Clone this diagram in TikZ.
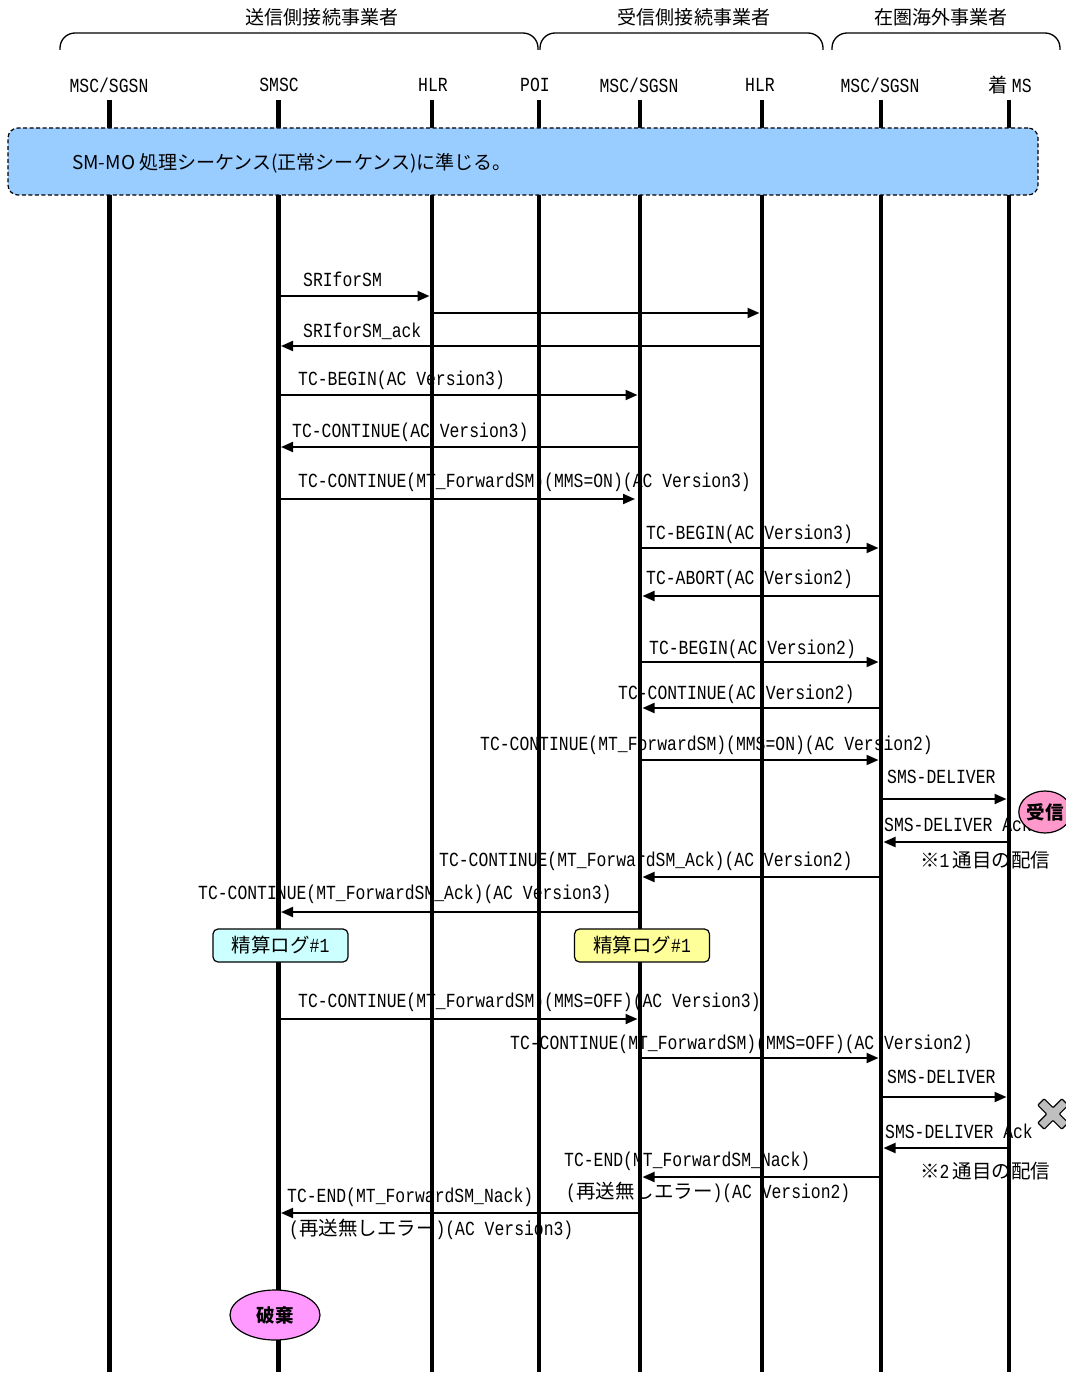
\documentclass[tikz,border=0pt]{standalone}
\usepackage{fontspec}
\setmainfont[FakeStretch=0.82]{Liberation Mono}
\newfontfamily\jp[Scale=0.975]{Noto Sans CJK JP}
\usetikzlibrary{arrows.meta,shapes.geometric}
\definecolor{boxblue}{HTML}{99CCFF}
\definecolor{logcyan}{HTML}{CCFFFF}
\definecolor{logyellow}{HTML}{FFFF99}
\definecolor{recvpink}{HTML}{FF99CC}
\definecolor{discpink}{HTML}{FF99FF}
\definecolor{xgray}{HTML}{BFBFBF}
\newcommand\J[1]{{\jp #1}}
\tikzset{
  life/.style={line width=4.5pt},
  msg/.style={line width=2pt,-{Triangle[length=12pt,width=10pt]},shorten >=2.5pt},
  lbl/.style={anchor=base west},
  hdr/.style={anchor=center},
  brace/.style={line width=1.3pt,rounded corners=15pt},
  logbox/.style={draw,line width=1.2pt,rounded corners=5pt,minimum width=135pt,minimum height=33pt},
  stampmark/.style={draw,line width=1.2pt,ellipse,font=\fontsize{19}{22}\selectfont\jp\bfseries}
}
\begin{document}
\begin{tikzpicture}[x=1pt,y=-1pt,every node/.style={inner sep=0pt,font=\fontsize{20}{24}\selectfont}]
\useasboundingbox (0,0) rectangle (1065,1375);
\fill[white] (0,0) rectangle (1065,1375);

% operator groups
\draw[brace] (60,50) -- (60,33) -- (538,33) -- (538,50);
\draw[brace] (540,50) -- (540,33) -- (823,33) -- (823,50);
\draw[brace] (832,50) -- (832,33) -- (1060,33) -- (1060,50);
\node[hdr,font=\fontsize{19.5}{22}\selectfont\jp] (g1) at (322,17) {送信側接続事業者};
\node[hdr,font=\fontsize{19.5}{22}\selectfont\jp] (g2) at (694,17) {受信側接続事業者};
\node[hdr,font=\fontsize{19.5}{22}\selectfont\jp] (g3) at (941,17) {在圏海外事業者};

% participants
\node[hdr] (p1) at (109,85) {MSC/SGSN};
\node[hdr] (p2) at (279,85) {SMSC};
\node[hdr] (p3) at (433,85) {HLR};
\node[hdr] (p4) at (535,85) {POI};
\node[hdr] (p5) at (639,85) {MSC/SGSN};
\node[hdr] (p6) at (760,85) {HLR};
\node[hdr] (p7) at (880,85) {MSC/SGSN};
\node[hdr] (p8) at (1010,85) {\J{着}\hspace{4pt}MS};

% message labels
\node[lbl] (t1) at (303,286) {SRIforSM};
\node[lbl] (t3) at (303,337) {SRIforSM\_ack};
\node[lbl] (t4) at (298,385) {TC-BEGIN(AC Version3)};
\node[lbl] (t5) at (292,437) {TC-CONTINUE(AC Version3)};
\node[lbl] (t6) at (298,487) {TC-CONTINUE(MT\_ForwardSM)(MMS=ON)(AC Version3)};
\node[lbl] (t7) at (646,539) {TC-BEGIN(AC Version3)};
\node[lbl] (t8) at (646,584) {TC-ABORT(AC Version2)};
\node[lbl] (t9) at (649,654) {TC-BEGIN(AC Version2)};
\node[lbl] (t10) at (618,699) {TC-CONTINUE(AC Version2)};
\node[lbl] (t11) at (480,750) {TC-CONTINUE(MT\_ForwardSM)(MMS=ON)(AC Version2)};
\node[lbl] (t12) at (887,783) {SMS-DELIVER};
\node[lbl] (t13) at (884,831) {SMS-DELIVER Ack};
\node[lbl] (n1) at (920,867) {\J{※}1\hspace{3pt}\J{通目の配信}};
\node[lbl] (t14) at (439,866) {TC-CONTINUE(MT\_ForwardSM\_Ack)(AC Version2)};
\node[lbl] (t15) at (198,899) {TC-CONTINUE(MT\_ForwardSM\_Ack)(AC Version3)};
\node[lbl] (t16) at (298,1007) {TC-CONTINUE(MT\_ForwardSM)(MMS=OFF)(AC Version3)};
\node[lbl] (t17) at (510,1049) {TC-CONTINUE(MT\_ForwardSM)(MMS=OFF)(AC Version2)};
\node[lbl] (t18) at (887,1083) {SMS-DELIVER};
\node[lbl] (t19) at (885,1138) {SMS-DELIVER Ack};
\node[lbl] (n2) at (920,1178) {\J{※}2\hspace{3pt}\J{通目の配信}};
\node[lbl] (t20a) at (564,1166) {TC-END(MT\_ForwardSM\_Nack)};
\node[lbl] (t20b) at (566,1198) {(\J{再送無しエラー})(AC Version2)};
\node[lbl] (t21a) at (287,1202) {TC-END(MT\_ForwardSM\_Nack)};
\node[lbl] (t21b) at (289,1235) {(\J{再送無しエラー})(AC Version3)};

% lifelines
\foreach \n/\x in {1/109.5,2/278.5,3/432,4/539,5/640,6/762,7/881,8/1009}{
  \coordinate (l\n t) at (\x,100);
  \coordinate (l\n b) at (\x,1372);
  \draw[life] (l\n t) -- (l\n b);
}

% message rows
\foreach \n/\y in {1/296,2/313,3/346,4/395,5/447,6/499,7/548,8/596,9/662,10/708,
  11/760,12/799,13/842,14/877,15/912,16/1019,17/1058,18/1097,19/1148,20/1177,21/1213}{
  \coordinate (r\n) at (0,\y);
}
\draw[msg] (l2t |- r1) -- (l3t |- r1);
\draw[msg] (l3t |- r2) -- (l6t |- r2);
\draw[msg] (l6t |- r3) -- (l2t |- r3);
\draw[msg] (l2t |- r4) -- (l5t |- r4);
\draw[msg] (l5t |- r5) -- (l2t |- r5);
\draw[msg,shorten >=5pt] (l2t |- r6) -- (l5t |- r6);
\draw[msg] (l5t |- r7) -- (l7t |- r7);
\draw[msg] (l7t |- r8) -- (l5t |- r8);
\draw[msg] (l5t |- r9) -- (l7t |- r9);
\draw[msg] (l7t |- r10) -- (l5t |- r10);
\draw[msg] (l5t |- r11) -- (l7t |- r11);
\draw[msg] (l7t |- r12) -- (l8t |- r12);
\draw[msg] (l8t |- r13) -- (l7t |- r13);
\draw[msg] (l7t |- r14) -- (l5t |- r14);
\draw[msg] (l5t |- r15) -- (l2t |- r15);
\draw[msg] (l2t |- r16) -- (l5t |- r16);
\draw[msg] (l5t |- r17) -- (l7t |- r17);
\draw[msg] (l7t |- r18) -- (l8t |- r18);
\draw[msg] (l8t |- r19) -- (l7t |- r19);
\draw[msg] (l7t |- r20) -- (l5t |- r20);
\draw[msg] (l5t |- r21) -- (l2t |- r21);

% SM-MO box
\node[draw,dashed,dash pattern=on 4pt off 2.5pt,line width=1.2pt,fill=boxblue,rounded corners=10pt,
  minimum width=1030pt,minimum height=67pt] (mo) at (523,161.5) {};
\node[anchor=west,font=\fontsize{19.5}{22}\selectfont\jp] (motext) at (72,163) {SM-MO 処理シーケンス(正常シーケンス)に準じる。};

% charging logs
\node[logbox,fill=logcyan] (log1) at (280.5,945.5) {\J{精算ログ}\#1};
\node[logbox,fill=logyellow] (log2) at (642,945.5) {\J{精算ログ}\#1};

% marks
\node[stampmark,fill=recvpink,minimum width=52pt,minimum height=42pt] (recv) at (1045,812) {受信};
\node[stampmark,fill=discpink,minimum width=90pt,minimum height=50pt] (disc) at (275,1315) {破棄};
\draw[fill=xgray,line width=1.2pt,rounded corners=1pt,shift={(1053,1114)},rotate=45]
  (4.5,17) -- (4.5,4.5) -- (17,4.5) -- (17,-4.5) -- (4.5,-4.5) -- (4.5,-17) -- (-4.5,-17)
  -- (-4.5,-4.5) -- (-17,-4.5) -- (-17,4.5) -- (-4.5,4.5) -- (-4.5,17) -- cycle;
\end{tikzpicture}
\end{document}
